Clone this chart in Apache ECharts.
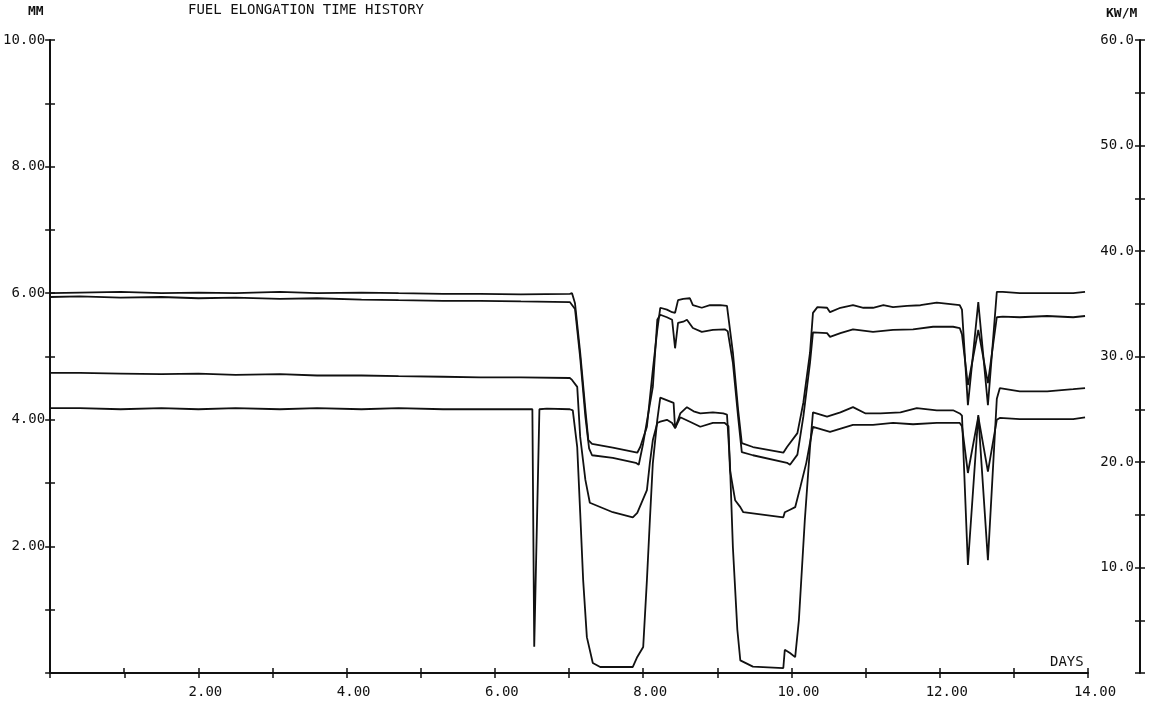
<!DOCTYPE html>
<html>
<head>
<meta charset="utf-8">
<script src="https://cdn.jsdelivr.net/npm/echarts@6/dist/echarts.min.js"></script>
<style>
html,body{margin:0;padding:0;background:#fff;}
#chart{width:1149px;height:706px;}
</style>
</head>
<body>
<div id="chart"></div>
<script>
// ---- Axis tick labels ----
const xTickLabels = {2:'2.00',4:'4.00',6:'6.00',8:'8.00',10:'10.00',12:'12.00',14:'14.00'};
const leftTickLabels = {2:'2.00',4:'4.00',6:'6.00',8:'8.00',10:'10.00'};
const rightTickLabels = {10:'10.0',20:'20.0',30:'30.0',40:'40.0',50:'50.0',60:'60.0'};

// ---- Series A (top trace, "X" symbols), MM ----
const aDays = [0,0.4,0.95,1.5,2.0,2.5,3.1,3.6,4.2,4.7,5.3,5.8,6.35,7.01,7.04,7.08,7.15,7.22,7.26,7.31,7.59,7.92,7.96,8.05,8.13,8.19,8.23,8.32,8.39,8.43,8.47,8.54,8.63,8.67,8.79,8.90,9.04,9.13,9.21,9.28,9.33,9.48,9.89,9.94,10.08,10.16,10.25,10.29,10.35,10.48,10.52,10.66,10.83,10.97,11.10,11.24,11.37,11.56,11.74,11.96,12.27,12.30,12.38,12.52,12.65,12.77,12.85,13.08,13.45,13.80,13.96];
const aMM   = [6.00,6.01,6.02,6.00,6.01,6.00,6.02,6.00,6.01,6.00,5.99,5.99,5.98,5.99,6.00,5.84,5.06,4.16,3.68,3.62,3.56,3.48,3.57,3.89,4.79,5.42,5.77,5.74,5.70,5.69,5.89,5.91,5.92,5.81,5.77,5.81,5.81,5.80,5.06,4.16,3.63,3.57,3.48,3.57,3.79,4.27,5.06,5.69,5.78,5.77,5.70,5.77,5.81,5.77,5.77,5.81,5.78,5.80,5.81,5.85,5.81,5.74,4.23,5.86,4.23,6.02,6.02,6.00,6.00,6.00,6.02];

// ---- Series B (second trace), MM ----
const bDays = [0,0.4,0.95,1.5,2.0,2.5,3.1,3.6,4.2,4.7,5.3,5.8,6.35,7.01,7.08,7.15,7.22,7.27,7.31,7.59,7.90,7.94,8.00,8.13,8.19,8.23,8.32,8.39,8.43,8.47,8.54,8.59,8.67,8.79,8.94,9.10,9.14,9.21,9.28,9.33,9.48,9.94,9.98,10.08,10.16,10.25,10.29,10.48,10.52,10.66,10.83,11.10,11.37,11.64,11.91,12.18,12.27,12.30,12.38,12.52,12.65,12.77,12.85,13.08,13.45,13.80,13.96];
const bMM   = [5.94,5.95,5.93,5.94,5.92,5.93,5.91,5.92,5.90,5.89,5.88,5.88,5.87,5.86,5.75,4.98,4.05,3.55,3.44,3.40,3.32,3.29,3.63,4.52,5.58,5.66,5.62,5.58,5.13,5.53,5.55,5.58,5.45,5.39,5.42,5.43,5.40,4.90,4.05,3.49,3.44,3.32,3.29,3.45,4.05,4.90,5.38,5.37,5.31,5.37,5.43,5.39,5.42,5.43,5.47,5.47,5.45,5.35,4.55,5.42,4.58,5.62,5.63,5.62,5.64,5.62,5.64];

// ---- Series C ("0" symbols), MM ----
const cDays = [0,0.4,0.95,1.5,2.0,2.5,3.1,3.6,4.2,4.7,5.3,5.8,6.35,7.01,7.04,7.11,7.15,7.22,7.28,7.59,7.86,7.92,8.05,8.09,8.13,8.19,8.23,8.32,8.39,8.43,8.50,8.63,8.77,8.94,9.10,9.15,9.17,9.24,9.31,9.35,9.89,9.91,9.98,10.05,10.12,10.20,10.29,10.52,10.83,11.10,11.37,11.64,11.96,12.27,12.30,12.38,12.52,12.65,12.77,12.81,13.08,13.45,13.80,13.96];
const cMM   = [4.74,4.74,4.73,4.72,4.73,4.71,4.72,4.70,4.70,4.69,4.68,4.67,4.67,4.66,4.63,4.52,3.73,3.05,2.69,2.54,2.46,2.53,2.89,3.32,3.68,3.95,3.97,4.00,3.95,3.87,4.04,3.97,3.89,3.95,3.95,3.90,3.21,2.73,2.62,2.54,2.46,2.54,2.58,2.62,2.94,3.32,3.89,3.81,3.92,3.92,3.95,3.93,3.95,3.95,3.90,3.16,4.05,3.18,4.00,4.03,4.01,4.01,4.01,4.04];

// ---- Series D ("2" symbols), KW/M ----
const dDays = [0,0.4,0.95,1.5,2.0,2.5,3.1,3.6,4.2,4.7,5.3,5.8,6.35,6.505,6.53,6.60,6.70,7.01,7.05,7.11,7.15,7.19,7.24,7.32,7.42,7.86,7.92,8.00,8.05,8.09,8.13,8.19,8.23,8.41,8.43,8.50,8.59,8.68,8.77,8.94,9.08,9.13,9.17,9.21,9.27,9.31,9.48,9.89,9.91,9.98,10.05,10.10,10.18,10.25,10.29,10.48,10.66,10.83,11.0,11.2,11.47,11.69,11.96,12.18,12.27,12.30,12.38,12.52,12.65,12.77,12.81,13.08,13.45,13.80,13.96];
const dKW   = [25.1,25.1,25.0,25.1,25.0,25.1,25.0,25.1,25.0,25.1,25.0,25.0,25.0,25.0,2.5,25.0,25.05,25.0,24.9,21.4,15.2,8.8,3.4,0.95,0.57,0.57,1.52,2.46,8.8,14.5,19.9,24.0,26.1,25.6,23.2,24.6,25.2,24.8,24.6,24.7,24.6,24.5,19.9,11.9,4.1,1.2,0.6,0.47,2.2,1.9,1.5,5.0,14.5,21.4,24.7,24.3,24.7,25.2,24.6,24.6,24.7,25.1,24.9,24.9,24.6,24.4,10.24,24.45,10.7,26.0,27.0,26.7,26.7,26.9,27.0];

const zip = (xs, ys) => xs.map((x, i) => [x, ys[i]]);

const FONT = '"DejaVu Sans Mono", "Liberation Mono", monospace';
const INK = '#111';

const chart = echarts.init(document.getElementById('chart'), null, {renderer: 'canvas'});

const axisLine = {show: true, lineStyle: {color: INK, width: 2}};
const tickStyle = {color: INK, width: 1.5};
const gridRect = {left: 50, right: 61, top: 40, bottom: 33, containLabel: false};

const option = {
  backgroundColor: '#fff',
  animation: false,
  grid: [Object.assign({}, gridRect), Object.assign({}, gridRect)],
  xAxis: [
    {
      gridIndex: 0, type: 'value', min: 0, max: 14, interval: 1, position: 'bottom',
      axisLine: axisLine,
      axisTick: {show: true, length: 5, inside: false, lineStyle: tickStyle},
      splitLine: {show: false},
      axisLabel: {
        margin: 12, color: INK, fontFamily: FONT, fontSize: 14,
        padding: [0, 0, 0, 14],
        formatter: v => xTickLabels[v] || ''
      }
    },
    {
      gridIndex: 1, type: 'value', min: 0, max: 14, interval: 1, position: 'bottom',
      axisLine: {show: false},
      axisTick: {show: true, length: 5, inside: true, lineStyle: tickStyle},
      splitLine: {show: false},
      axisLabel: {show: false}
    }
  ],
  yAxis: [
    {
      gridIndex: 0, type: 'value', min: 0, max: 10, interval: 1, position: 'left',
      axisLine: axisLine,
      axisTick: {show: true, length: 5, inside: false, lineStyle: tickStyle},
      splitLine: {show: false},
      axisLabel: {
        margin: 5, color: INK, fontFamily: FONT, fontSize: 14,
        formatter: v => leftTickLabels[v] || ''
      }
    },
    {
      gridIndex: 0, type: 'value', min: 0, max: 60, interval: 5, position: 'right', offset: 52,
      axisLine: axisLine,
      axisTick: {show: true, length: 5, inside: false, lineStyle: tickStyle},
      splitLine: {show: false},
      axisLabel: {
        inside: true, margin: 6, color: INK, fontFamily: FONT, fontSize: 14,
        formatter: v => rightTickLabels[v] || ''
      }
    },
    {
      gridIndex: 1, type: 'value', min: 0, max: 10, interval: 1, position: 'left',
      axisLine: {show: false},
      axisTick: {show: true, length: 5, inside: true, lineStyle: tickStyle},
      splitLine: {show: false},
      axisLabel: {show: false}
    },
    {
      gridIndex: 1, type: 'value', min: 0, max: 60, interval: 5, position: 'right', offset: 52,
      axisLine: {show: false},
      axisTick: {show: true, length: 5, inside: true, lineStyle: tickStyle},
      splitLine: {show: false},
      axisLabel: {show: false}
    }
  ],
  graphic: [
    {type: 'text', left: 188, top: 3, style: {text: 'FUEL ELONGATION TIME HISTORY', font: '14px ' + FONT, fill: INK}},
    {type: 'text', left: 28, top: 5, style: {text: 'MM', font: 'bold 13px ' + FONT, fill: INK}},
    {type: 'text', left: 1106, top: 7, style: {text: 'KW/M', font: 'bold 13px ' + FONT, fill: INK}},
    {type: 'text', left: 1050, top: 655, style: {text: 'DAYS', font: '14px ' + FONT, fill: INK}}
  ],
  series: [
    {name: 'Elongation X', type: 'line', xAxisIndex: 0, yAxisIndex: 0, data: zip(aDays, aMM), showSymbol: false, lineStyle: {color: INK, width: 1.8}},
    {name: 'Elongation', type: 'line', xAxisIndex: 0, yAxisIndex: 0, data: zip(bDays, bMM), showSymbol: false, lineStyle: {color: INK, width: 1.8}},
    {name: 'Elongation 0', type: 'line', xAxisIndex: 0, yAxisIndex: 0, data: zip(cDays, cMM), showSymbol: false, lineStyle: {color: INK, width: 1.8}},
    {name: 'Linear power 2', type: 'line', xAxisIndex: 0, yAxisIndex: 1, data: zip(dDays, dKW), showSymbol: false, lineStyle: {color: INK, width: 1.8}}
  ]
};
chart.setOption(option);
</script>
</body>
</html>
